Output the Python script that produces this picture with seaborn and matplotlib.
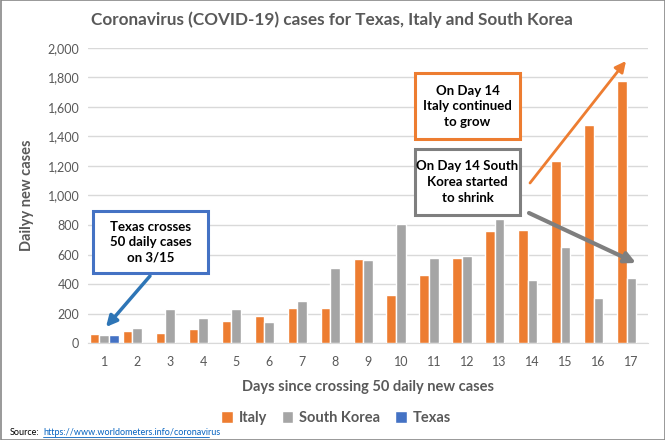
import numpy as np
import pandas as pd
import seaborn as sns
import matplotlib.pyplot as plt
from matplotlib.patches import Rectangle
from matplotlib.ticker import FuncFormatter

# Values
days = list(range(1, 18))
italy = [62, 78, 71, 92, 147, 182, 237, 237, 568, 328, 463, 578, 761, 767, 1235, 1479, 1777]
south_korea = [51, 99, 230, 168, 230, 140, 285, 506, 566, 805, 578, 591, 842, 429, 652, 307, 442]
texas = [57]  # only day 1 so far

series_names = ["Italy", "South Korea", "Texas"]
series_colors = ["#ED7D31", "#A5A5A5", "#4472C4"]

rows = []
for d, v in zip(days, italy):
    rows.append({"Day": d, "Country": "Italy", "Cases": v})
for d, v in zip(days, south_korea):
    rows.append({"Day": d, "Country": "South Korea", "Cases": v})
for d, v in zip(days, texas):
    rows.append({"Day": d, "Country": "Texas", "Cases": v})
df = pd.DataFrame(rows)

sns.set_style("white")
plt.rcParams["font.family"] = ["Lato", "DejaVu Sans"]

TXT = "#595959"
fig = plt.figure(figsize=(6.65, 4.4), dpi=100)
ax = fig.add_axes([87.7 / 665, 97 / 440, (648 - 87.7) / 665, 295 / 440])

sns.barplot(data=df, x="Day", y="Cases", hue="Country", hue_order=series_names,
            palette=series_colors, order=days, width=0.87, gap=0,
            saturation=1, ax=ax, legend=True, zorder=3)

ax.set_ylim(0, 2000)
ax.set_yticks(np.arange(0, 2001, 200))
ax.yaxis.set_major_formatter(FuncFormatter(lambda v, p: f"{int(v):,}"))
ax.grid(axis="y", color="#D9D9D9", linewidth=1, zorder=0)
ax.set_axisbelow(True)
for s in ["top", "right", "left"]:
    ax.spines[s].set_visible(False)
ax.spines["bottom"].set_color("#D9D9D9")
ax.tick_params(axis="y", length=0, labelsize=9, labelcolor=TXT, pad=6)
ax.tick_params(axis="x", length=0, labelsize=9, labelcolor=TXT, pad=9)

ax.set_xlabel("Days since crossing 50 daily new cases", fontsize=10.5,
              fontweight="bold", color=TXT, labelpad=9)
ax.set_ylabel("Dailyy new cases", fontsize=10.5, fontweight="bold", color=TXT, labelpad=10)

fig.text(332 / 665, 1 - 20 / 440, "Coronavirus (COVID-19) cases for Texas, Italy and South Korea",
         ha="center", va="center", fontsize=12.3, fontweight="bold", color=TXT)

leg = ax.legend(loc="center", bbox_to_anchor=(336 / 665, 1 - 418 / 440),
                bbox_transform=fig.transFigure, ncol=3, frameon=False,
                fontsize=10.5, handlelength=0.8, handleheight=0.8,
                columnspacing=1.0, handletextpad=0.4)
for t in leg.get_texts():
    t.set_color(TXT)
    t.set_fontweight("bold")

# source line
fig.text(10 / 665, 1 - 432 / 440, "Source:", fontsize=6.5, color="black", va="center")
fig.text(43 / 665, 1 - 432 / 440, "https://www.worldometers.info/coronavirus",
         fontsize=6.5, color="#0563C1", va="center")
fig.add_artist(plt.Line2D([43 / 665, 209 / 665], [1 - 437 / 440, 1 - 437 / 440],
                          color="#0563C1", linewidth=0.6))

# annotation boxes (figure pixel positions)
def box(x0, y0, x1, y1, color, text):
    fig.add_artist(Rectangle((x0 / 665, 1 - y1 / 440), (x1 - x0) / 665, (y1 - y0) / 440,
                             transform=fig.transFigure, facecolor="white",
                             edgecolor=color, linewidth=2.2, zorder=5))
    fig.text((x0 + x1) / 2 / 665, 1 - (y0 + y1) / 2 / 440, text, ha="center", va="center",
             fontsize=9.5, fontweight="bold", color="black", linespacing=1.35, zorder=6)

def arrow(x0, y0, x1, y1, color, lw):
    ax.annotate("", xy=(x1 / 665, 1 - y1 / 440), xytext=(x0 / 665, 1 - y0 / 440),
                xycoords="figure fraction", textcoords="figure fraction",
                arrowprops=dict(arrowstyle="-|>", color=color, lw=lw,
                                mutation_scale=16, shrinkA=0, shrinkB=0), zorder=6)

box(93, 211, 208, 273, "#4472C4", "Texas crosses\n50 daily cases\non 3/15")
arrow(150, 276, 106, 327, "#2E75B6", 2.5)
box(415, 73, 520, 139, "#ED7D31", "On Day 14\nItaly continued\nto grow")
arrow(530, 183, 626, 61, "#ED7D31", 2.0)
box(415, 149, 520, 215, "#7F7F7F", "On Day 14 South\nKorea started\nto shrink")
arrow(529, 213, 636, 263, "#7F7F7F", 3.0)

# outer frame
fig.add_artist(Rectangle((0.5 / 665, 0.5 / 440), 664 / 665, 439 / 440, transform=fig.transFigure,
                         fill=False, edgecolor="#878787", linewidth=1.2))

fig.savefig("out.png", dpi=100)
